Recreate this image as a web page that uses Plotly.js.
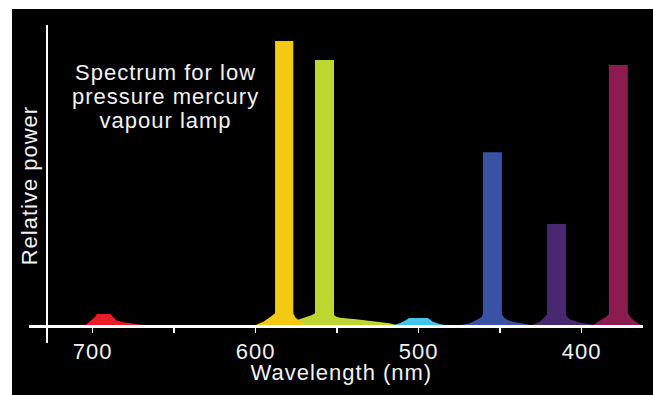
<!DOCTYPE html>
<html>
<head>
<meta charset="utf-8">
<script src="https://cdn.plot.ly/plotly-3.0.1.min.js"></script>
<style>
  html, body { margin: 0; padding: 0; background: #ffffff; width: 653px; height: 395px; overflow: hidden; }
  #chart { position: absolute; left: 12px; top: 9px; width: 641px; height: 386px; }
  .main-svg text { letter-spacing: 1px; }
</style>
</head>
<body>
<div id="chart"></div>
<script>
// Wavelength (nm) and relative power (yellow line = 100) for each emission line
const redWl     = [705, 701.7, 699.6, 698.3, 697.5, 689, 687.8, 685.3, 681.2, 675, 669, 665];
const redPow    = [0, 1.5, 2.4, 3.3, 4.2, 4.2, 3.3, 1.9, 1.3, 0.8, 0.45, 0];

const yellowWl  = [601.5, 595.3, 591.2, 589.1, 588.1, 588.1, 576.9, 576.9, 575.6, 573.8, 571.6, 567.9];
const yellowPow = [0, 1.5, 3.05, 4.0, 4.5, 100, 100, 4.5, 3.0, 2.1, 1.2, 0];

const greenWl   = [585.1, 573.8, 568.7, 565.4, 563.6, 563.6, 551.9, 551.9, 550.7, 548.3, 538.3, 528.0, 517.8, 511.4];
const greenPow  = [0, 2.1, 3.05, 3.9, 4.5, 93.3, 93.3, 3.9, 3.3, 2.9, 2.35, 1.6, 0.95, 0];

const cyanWl    = [516.8, 511.6, 507.6, 505.9, 494.3, 491.2, 487.1, 480.9];
const cyanPow   = [0, 0.95, 2.1, 2.8, 2.8, 1.5, 0.7, 0];

const blueWl    = [476.9, 468.7, 463.6, 461.4, 460.5, 460.5, 448.9, 448.9, 447.6, 445.2, 442.1, 433.9, 427.8];
const bluePow   = [0, 0.95, 2.35, 3.2, 4.2, 61.0, 61.0, 4.2, 3.0, 2.0, 1.5, 0.7, 0];

const purpleWl  = [431.9, 425.7, 422.7, 421.2, 421.2, 409.6, 409.6, 407.3, 401.2, 393.0, 388.7];
const purplePow = [0, 1.5, 3.05, 4.1, 35.8, 35.8, 3.9, 2.35, 1.2, 0.45, 0];

const magentaWl  = [394.1, 388.9, 384.9, 383.2, 383.2, 371.6, 371.6, 369.5, 365.4, 362.3];
const magentaPow = [0, 1.85, 3.25, 4.2, 91.6, 91.6, 4.5, 2.7, 0.95, 0];

const tickVals  = [700, 650, 600, 550, 500, 450, 400];
const tickText  = ['700', '', '600', '', '500', '', '400'];
const titleLines = ['Spectrum for low', 'pressure mercury', 'vapour lamp'];

const series = [
  {wl: redWl, p: redPow, color: '#ED1C24'},
  {wl: cyanWl, p: cyanPow, color: '#41C6EA'},
  {wl: greenWl, p: greenPow, color: '#BED62F'},
  {wl: yellowWl, p: yellowPow, color: '#F2CA14'},
  {wl: blueWl, p: bluePow, color: '#3A52A3'},
  {wl: purpleWl, p: purplePow, color: '#48286F'},
  {wl: magentaWl, p: magentaPow, color: '#8B1C4F'}
];

const traces = series.map(s => ({
  type: 'scatter', x: s.wl, y: s.p, mode: 'lines',
  line: {width: 0, color: s.color}, fill: 'toself', fillcolor: s.color,
  hoverinfo: 'skip', showlegend: false
}));

const FONT = 'Liberation Sans, Arial, Helvetica, sans-serif';
const textColor = '#F2F2F2';

const titleY = [0.85, 0.776, 0.70];
const annotations = titleLines.map((t, i) => ({
  text: t, xref: 'paper', yref: 'paper', x: 0.2215, y: titleY[i],
  xanchor: 'center', yanchor: 'middle', showarrow: false,
  font: {family: FONT, size: 22, color: textColor}
}));
annotations.push({
  text: 'Wavelength (nm)', xref: 'paper', yref: 'paper', x: 0.5088, y: -0.0934,
  xanchor: 'center', yanchor: 'middle', showarrow: false,
  font: {family: FONT, size: 22, color: textColor}
});
annotations.push({
  text: 'Relative power', xref: 'paper', yref: 'paper', x: 0.0023, y: 0.497,
  xanchor: 'center', yanchor: 'middle', showarrow: false, textangle: -90,
  font: {family: FONT, size: 22, color: textColor}
});

const layout = {
  width: 641, height: 386,
  margin: {l: 17, r: 10, t: 16, b: 52},
  paper_bgcolor: '#000000', plot_bgcolor: '#000000',
  showlegend: false,
  xaxis: {
    range: [739.1, 362.3], anchor: 'free', position: 0.0535,
    showline: true, linecolor: '#FFFFFF', linewidth: 3,
    showgrid: false, zeroline: false,
    tickmode: 'array', tickvals: tickVals, ticktext: tickText,
    ticks: 'outside', ticklen: 5, tickwidth: 1.5, tickcolor: '#FFFFFF',
    tickfont: {family: FONT, size: 22, color: textColor},
    fixedrange: true
  },
  yaxis: {
    range: [-5.96, 105.6], anchor: 'free', position: 0.0288,
    showline: true, linecolor: '#FFFFFF', linewidth: 2.5,
    showgrid: false, zeroline: false, showticklabels: false, ticks: '',
    fixedrange: true
  },
  annotations: annotations
};

Plotly.newPlot('chart', traces, layout, {staticPlot: true, displayModeBar: false});
</script>
</body>
</html>
